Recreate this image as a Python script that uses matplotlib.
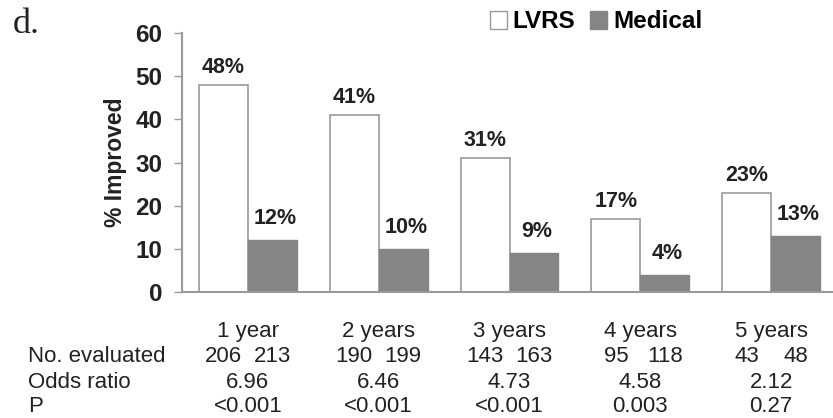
import matplotlib
matplotlib.use("Agg")
import matplotlib.pyplot as plt
import matplotlib.transforms as mtransforms
from matplotlib.patches import Patch
import numpy as np

plt.rcParams['font.family'] = ['Liberation Sans', 'DejaVu Sans']

categories = ["1 year", "2 years", "3 years", "4 years", "5 years"]
lvrs = [48, 41, 31, 17, 23]
medical = [12, 10, 9, 4, 13]
n_lvrs = [206, 190, 143, 95, 43]
n_medical = [213, 199, 163, 118, 48]
odds_ratio = ["6.96", "6.46", "4.73", "4.58", "2.12"]
p_values = ["<0.001", "<0.001", "<0.001", "0.003", "0.27"]
yticks = [0, 10, 20, 30, 40, 50, 60]

edge = "#9a9a9a"
gray = "#858585"
ink = "#222222"
fs_table = 16
fs_val = 15.5

fig = plt.figure(figsize=(8.33, 4.18), dpi=100)
ax = fig.add_axes([0.2185, 0.3014, 0.781, 0.6196])

x = np.arange(len(categories))
w = 0.374
ax.bar(x - w / 2, lvrs, w, color="white", edgecolor=edge, linewidth=1.2, label="LVRS")
ax.bar(x + w / 2, medical, w, color=gray, edgecolor=gray, linewidth=1.0, label="Medical")

for xi, v in zip(x, lvrs):
    ax.annotate(f"{v}%", (xi - w / 2, v), xytext=(0, 5), textcoords="offset points",
                ha="center", va="bottom", fontsize=fs_val, fontweight="bold", color=ink)
for xi, v in zip(x, medical):
    ax.annotate(f"{v}%", (xi + w / 2, v), xytext=(2, 8), textcoords="offset points",
                ha="center", va="bottom", fontsize=fs_val, fontweight="bold", color=ink)

ax.set_xlim(-0.504, 4.47)
ax.set_ylim(0, 60)
ax.set_yticks(yticks)
ax.set_yticklabels([str(t) for t in yticks], fontsize=17.5, fontweight="bold", color=ink)
ax.tick_params(axis="y", direction="out", length=6, width=1, color=edge, pad=8)
ax.set_xticks([])
for s in ["top", "right"]:
    ax.spines[s].set_visible(False)
for s in ["left", "bottom"]:
    ax.spines[s].set_color(edge)
    ax.spines[s].set_linewidth(1.5)
ax.set_ylabel("% Improved", fontsize=16.5, fontweight="bold", labelpad=6, color=ink)

# Table of counts, odds ratios and P values under the bars
trans = mtransforms.blended_transform_factory(ax.transData, fig.transFigure)
row_y = {"cat": 1 - 331 / 418, "n": 1 - 357 / 418, "or": 1 - 382 / 418, "p": 1 - 406 / 418}
for i in range(len(categories)):
    ax.text(x[i], row_y["cat"], categories[i], transform=trans, ha="center", va="center",
            fontsize=fs_table, color=ink)
    ax.text(x[i] - w / 2, row_y["n"], str(n_lvrs[i]), transform=trans, ha="center", va="center",
            fontsize=fs_table, color=ink)
    ax.text(x[i] + w / 2, row_y["n"], str(n_medical[i]), transform=trans, ha="center", va="center",
            fontsize=fs_table, color=ink)
    ax.text(x[i], row_y["or"], odds_ratio[i], transform=trans, ha="center", va="center",
            fontsize=fs_table, color=ink)
    ax.text(x[i], row_y["p"], p_values[i], transform=trans, ha="center", va="center",
            fontsize=fs_table, color=ink)

for key, lab in [("n", "No. evaluated"), ("or", "Odds ratio"), ("p", "P")]:
    fig.text(28 / 833, row_y[key], lab, ha="left", va="center", fontsize=fs_table, color=ink)

fig.text(13 / 833, 1 - 33 / 418, "d.", fontsize=26, family="Liberation Serif", color=ink,
         ha="left", va="baseline")

handles = [Patch(facecolor="white", edgecolor=edge, label="LVRS"),
           Patch(facecolor=gray, edgecolor=gray, label="Medical")]
fig.legend(handles=handles, loc="center", bbox_to_anchor=(596 / 833, 1 - 22 / 418), ncol=2,
           frameon=False, prop={"weight": "bold", "size": 17.5},
           handlelength=0.7, handleheight=0.7, handletextpad=0.25, columnspacing=0.6,
           borderpad=0.1)

fig.savefig("out.png", dpi=100)
